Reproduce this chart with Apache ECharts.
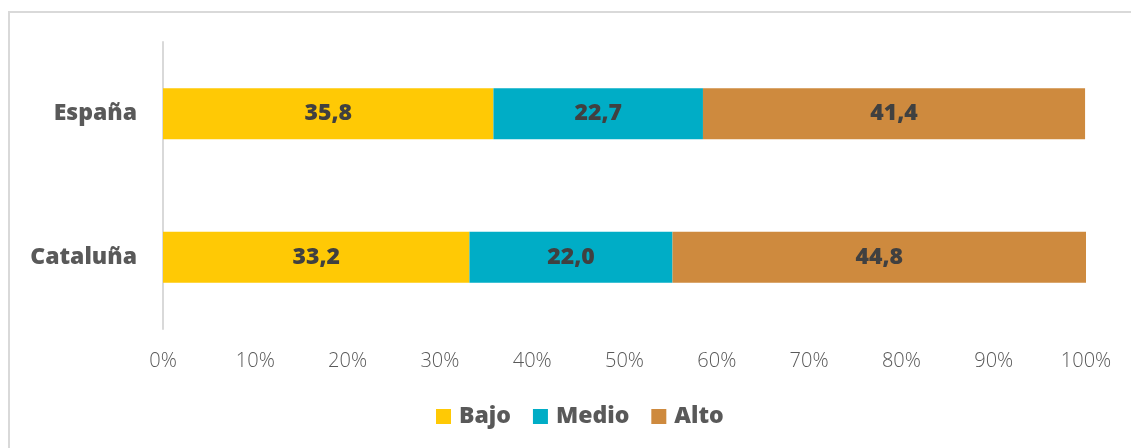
<!DOCTYPE html>
<html>
<head>
<meta charset="utf-8">
<script src="https://cdn.jsdelivr.net/npm/echarts@6/dist/echarts.min.js"></script>
<style>
  html, body { margin: 0; padding: 0; background: #fff; }
  #chart { width: 1131px; height: 448px; }
</style>
</head>
<body>
<div id="chart"></div>
<script>
var categories = ['Cataluña', 'España'];
var bajo = [33.2, 35.8];
var medio = [22.0, 22.7];
var alto = [44.8, 41.4];
var seriesNames = ['Bajo', 'Medio', 'Alto'];
var colors = ['#FFC905', '#00ADC6', '#CE8A3E'];

var chart = echarts.init(document.getElementById('chart'));

function fmt(p) {
    return p.value.toFixed(1).replace('.', ',');
}

var values = [bajo, medio, alto];
var series = [];
for (var i = 0; i < seriesNames.length; i++) {
    series.push({
        name: seriesNames[i],
        type: 'bar',
        stack: 'total',
        barWidth: 51,
        data: values[i],
        itemStyle: { color: colors[i] },
        label: {
            show: true,
            formatter: fmt,
            color: '#404040',
            fontFamily: 'Open Sans',
            fontWeight: 800,
            fontSize: 23
        }
    });
}

var option = {
    backgroundColor: '#fff',
    animation: false,
    graphic: [{
        type: 'rect',
        shape: { x: 9, y: 12, width: 1200, height: 600 },
        style: { fill: 'none', stroke: '#d9d9d9', lineWidth: 2 },
        silent: true
    }],
    grid: { left: 163, right: 45, top: 42, bottom: 119 },
    legend: {
        data: seriesNames,
        top: 400,
        left: 431,
        itemWidth: 15,
        itemHeight: 15,
        itemGap: 22,
        icon: 'rect',
        textStyle: {
            color: '#595959',
            fontFamily: 'Open Sans',
            fontWeight: 800,
            fontSize: 23,
            padding: [0, 0, 0, 3]
        }
    },
    xAxis: {
        type: 'value',
        min: 0,
        max: 100,
        interval: 10,
        axisLine: { show: false },
        axisTick: { show: false },
        splitLine: { show: false },
        axisLabel: {
            formatter: '{value}%',
            color: '#595959',
            fontFamily: 'Open Sans',
            fontWeight: 300,
            fontSize: 20,
            margin: 22
        }
    },
    yAxis: {
        type: 'category',
        data: categories,
        axisLine: { show: true, lineStyle: { color: '#d9d9d9', width: 2 } },
        axisTick: { show: false },
        axisLabel: {
            color: '#595959',
            fontFamily: 'Open Sans',
            fontWeight: 800,
            fontSize: 23,
            margin: 26
        }
    },
    series: series
};

chart.setOption(option);
</script>
</body>
</html>
